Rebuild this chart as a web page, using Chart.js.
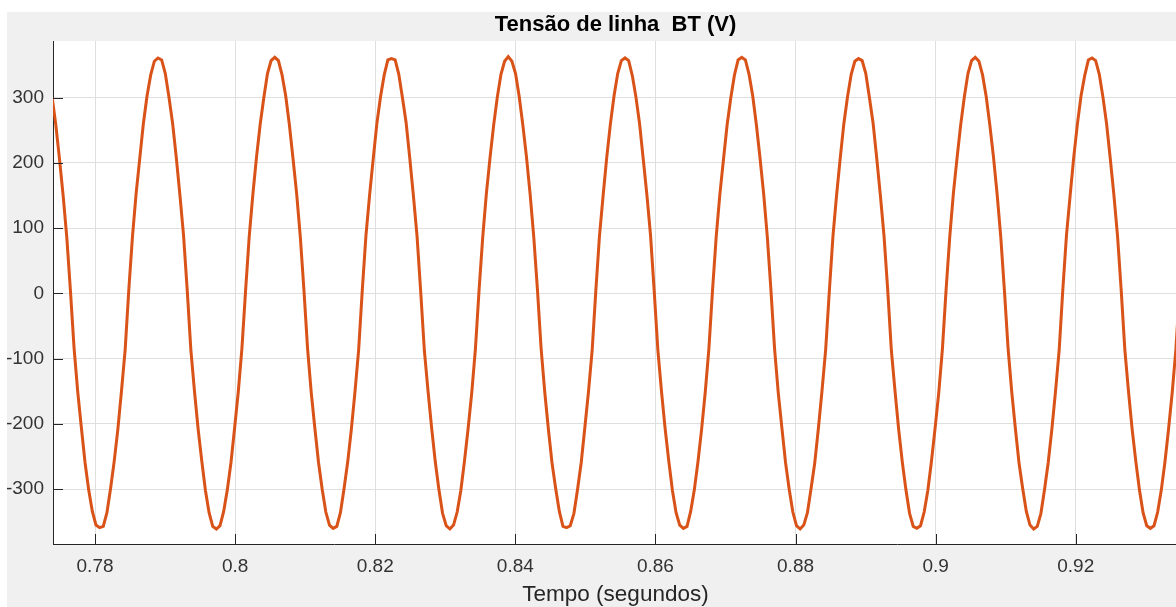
<!DOCTYPE html>
<html>
<head>
<meta charset="utf-8">
<script src="https://cdn.jsdelivr.net/npm/chart.js@4.4.1/dist/chart.umd.min.js"></script>
<style>
  html, body { margin: 0; padding: 0; background: #ffffff; overflow: hidden; width: 1176px; height: 607px; }
  #frame { position: absolute; left: 7px; top: 12px; width: 1180px; height: 595px; background: #f0f0f0; }
  canvas { display: block; }
</style>
</head>
<body>
<div id="frame"><canvas id="chart" width="1180" height="595"></canvas></div>
<script>
// Line voltage on the low-voltage side, sampled at 1920 samples per second (32 per 60 Hz cycle)
const sampleStart = 0.773886;   // time of the first sample, s
const samplesPerSecond = 1920;

const voltage = [
  300, 258, 206, 150, 86, 4, -84, -151, -206, -259, -301, -334, -355, -359,
  -357, -336, -299, -257, -208, -149, -86, 6, 87, 153, 207, 261, 303, 335, 356,

  361, 358, 337, 301, 261, 209, 151, 89, 6, -86, -150, -208, -257, -302, -336, -357,
  -361, -356, -334, -301, -259, -206, -151, -84, 4, 87, 152, 209, 259, 300, 337, 357,

  362, 357, 335, 303, 259, 207, 153, 87, 5, -85, -152, -207, -259, -300, -335, -355,
  -360, -357, -336, -299, -258, -208, -150, -86, 6, 89, 151, 207, 261, 302, 335, 358,

  360, 358, 336, 300, 262, 208, 150, 88, 3, -87, -149, -206, -258, -301, -337, -356,
  -361, -355, -335, -302, -257, -207, -152, -85, 5, 86, 153, 208, 258, 301, 336, 356,

  363, 356, 337, 302, 258, 209, 152, 86, 6, -84, -151, -208, -260, -299, -334, -357,
  -359, -356, -337, -300, -259, -205, -150, -87, 4, 88, 150, 209, 260, 303, 337, 357,

  361, 357, 334, 301, 260, 206, 151, 89, 4, -86, -150, -207, -257, -302, -336, -355,
  -360, -357, -334, -301, -258, -208, -151, -84, 6, 87, 152, 206, 259, 300, 335, 358,

  362, 358, 336, 303, 259, 208, 153, 87, 5, -85, -152, -206, -259, -300, -335, -356,
  -361, -355, -336, -299, -260, -207, -149, -86, 3, 88, 151, 208, 261, 302, 336, 356,

  360, 357, 337, 300, 261, 207, 150, 88, 6, -87, -149, -208, -258, -301, -337, -357,
  -360, -356, -335, -302, -257, -206, -152, -85, 5, 86, 153, 207, 258, 301, 337, 357,

  362, 356, 335, 302, 258, 209, 152, 86, 4, -84, -151, -207, -260, -299, -334, -355,
  -361, -357, -337, -300, -259, -208, -150, -87, 6, 89, 150, 209, 260, 303, 334, 358,

  361, 357, 336, 301, 260, 207, 151, 88, 5, -86, -150, -208, -257, -301, -336, -356,
  -360, -356, -335, -301, -258, -207, -151, -85, 5
];

const timeTicks = [0.78, 0.80, 0.82, 0.84, 0.86, 0.88, 0.90, 0.92];
const voltageTicks = [-300, -200, -100, 0, 100, 200, 300];
const timeRange = [0.774, 0.9346];
const voltageRange = [-384, 387];

const fontFamily = '"Liberation Sans", Arial, Helvetica, sans-serif';

// White plotting area on the grey figure background
const plotBackground = {
  id: 'plotBackground',
  beforeDraw(chart) {
    const { ctx, chartArea: a } = chart;
    ctx.save();
    ctx.fillStyle = '#ffffff';
    ctx.fillRect(a.left, a.top, a.right - a.left, a.bottom - a.top);
    ctx.restore();
  }
};

// Tick marks pointing into the plot, on the left and bottom axes
const inwardTicks = {
  id: 'inwardTicks',
  afterDraw(chart) {
    const { ctx, chartArea: a, scales: { x, y } } = chart;
    ctx.save();
    ctx.strokeStyle = '#262626';
    ctx.lineWidth = 1;
    ctx.beginPath();
    x.ticks.forEach(t => {
      const px = Math.round(x.getPixelForValue(t.value)) + 0.5;
      ctx.moveTo(px, a.bottom);
      ctx.lineTo(px, a.bottom - 10);
    });
    y.ticks.forEach(t => {
      const py = Math.round(y.getPixelForValue(t.value)) + 0.5;
      ctx.moveTo(a.left, py);
      ctx.lineTo(a.left + 10, py);
    });
    ctx.stroke();
    ctx.restore();
  }
};

new Chart(document.getElementById('chart'), {
  type: 'line',
  data: {
    datasets: [{
      data: voltage.map((v, i) => ({ x: sampleStart + i / samplesPerSecond, y: v })),
      borderColor: '#D95319',
      borderWidth: 3,
      pointRadius: 0,
      tension: 0,
      fill: false
    }]
  },
  options: {
    responsive: false,
    animation: false,
    devicePixelRatio: 1,
    locale: 'en-US',
    layout: { padding: { top: 0, left: 0, right: 9, bottom: 0 } },
    plugins: {
      legend: { display: false },
      tooltip: { enabled: false },
      title: {
        display: true,
        fullSize: false,
        text: 'Tensão de linha  BT (V)',
        color: '#000000',
        font: { family: fontFamily, size: 22, weight: 'bold', lineHeight: 1.2 },
        padding: { top: 0, bottom: 2.6 }
      }
    },
    scales: {
      x: {
        type: 'linear',
        min: timeRange[0],
        max: timeRange[1],
        afterBuildTicks: s => { s.ticks = timeTicks.map(v => ({ value: v })); },
        afterFit: s => { s.height = 63; },
        grid: { color: '#dfdfdf', lineWidth: 1, drawTicks: false },
        border: { display: true, color: '#262626', width: 1 },
        ticks: {
          padding: 11,
          color: '#333333',
          autoSkip: false,
          maxRotation: 0,
          font: { family: fontFamily, size: 19, lineHeight: 1.2 },
          callback: v => String(+Number(v).toFixed(4))
        },
        title: {
          display: true,
          text: 'Tempo (segundos)',
          color: '#262626',
          font: { family: fontFamily, size: 22.5, lineHeight: 1.2 },
          padding: { top: 0, bottom: -1 }
        }
      },
      y: {
        type: 'linear',
        min: voltageRange[0],
        max: voltageRange[1],
        afterBuildTicks: s => { s.ticks = voltageTicks.map(v => ({ value: v })); },
        afterFit: s => { s.width = 46; },
        grid: { color: '#dfdfdf', lineWidth: 1, drawTicks: false },
        border: { display: true, color: '#262626', width: 1 },
        ticks: {
          padding: 9,
          color: '#333333',
          font: { family: fontFamily, size: 19, lineHeight: 1.2 }
        }
      }
    }
  },
  plugins: [plotBackground, inwardTicks]
});
</script>
</body>
</html>
